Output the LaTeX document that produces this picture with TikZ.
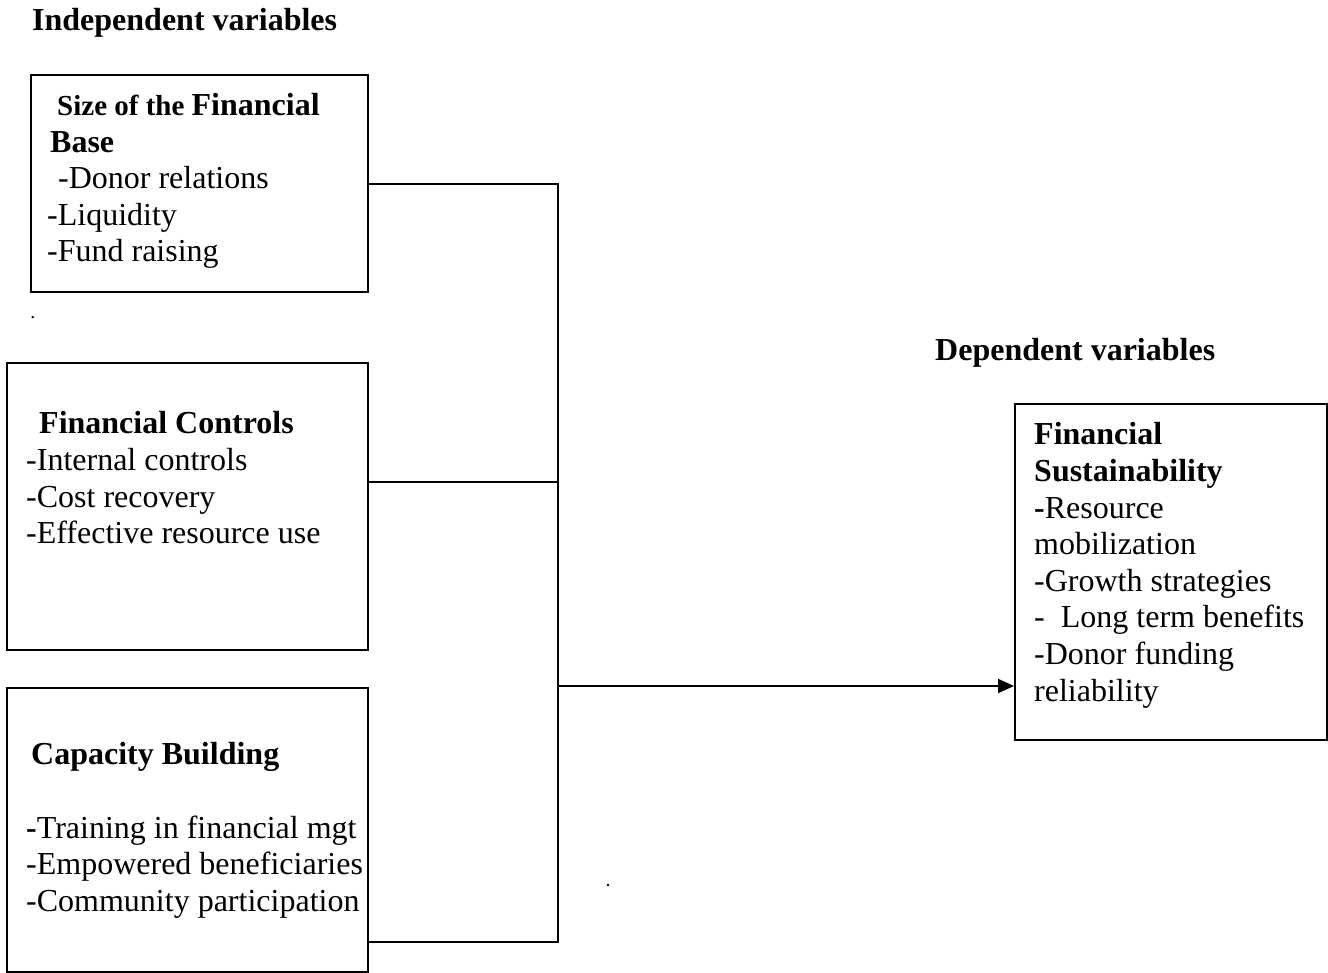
\documentclass[tikz,border=0pt]{standalone}
\usepackage{fontspec}
\setmainfont{Liberation Serif}
\usetikzlibrary{arrows.meta}

\tikzset{
  caja/.style={draw, line width=2pt, inner sep=0pt, anchor=north west},
  texto/.style={align=left, inner sep=0pt, anchor=north west,
    font=\fontsize{32}{36.6}\selectfont, execute at begin node=\strut},
  titulo/.style={inner sep=0pt, anchor=base west,
    font=\fontsize{32}{36.6}\selectfont\bfseries},
  punto/.style={inner sep=0pt, anchor=base, font=\fontsize{20}{24}\selectfont},
  linea/.style={line width=2pt}
}

\begin{document}
\begin{tikzpicture}[x=1pt, y=-1pt]
            \useasboundingbox (0,0) rectangle (1328,972);

            % Titulos
            \node[titulo] (indep) at (32,30) {Independent variables};
            \node[titulo] (dep) at (935,360) {Dependent variables};

            % Cajas
            \node[caja, minimum width=337pt, minimum height=217pt] (finbase) at (30,74) {};
            \node[caja, minimum width=361pt, minimum height=287pt] (fincontrols) at (6,362) {};
            \node[caja, minimum width=361pt, minimum height=284pt] (capacity) at (6,687) {};
            \node[caja, minimum width=312pt, minimum height=336pt] (sustain) at (1014,403) {};

            % Textos
            \node[texto] (finbaseTxt) at (47,93) {\hspace*{10pt}\textbf{{\fontsize{29}{36.6}\selectfont Size of the }Financial}\\
              \hspace*{3pt}\textbf{Base}\\
              \hspace*{11pt}-Donor relations\\
              -Liquidity\\
              -Fund raising};
            \node[texto] (fincontrolsTxt) at (26,411.5) {\hspace*{13pt}\textbf{Financial Controls}\\
              -Internal controls\\
              -Cost recovery\\
              -Effective resource use};
            \node[texto] (capacityTxt) at (26,742.5) {\hspace*{5pt}\textbf{Capacity Building}\\[36.6pt]
              \textbf{-}Training in financial mgt\\
              -Empowered beneficiaries\\
              -Community participation};
            \node[texto] (sustainTxt) at (1034,422.5) {\textbf{Financial}\\
              \textbf{Sustainability}\\
              \textbf{-}Resource\\
              mobilization\\
              -Growth strategies\\
              - \ Long term benefits\\
              -Donor funding\\
              reliability};

            % Puntos sueltos
            \node[punto] (dotA) at (33,318) {.};
            \node[punto] (dotB) at (608,886) {.};

            % Conectores
            \coordinate (busMid) at (558,482);
            \coordinate (busOut) at (558,686);
            \coordinate (busEnd) at (558,942);
            \draw[linea] (finbase.east) -| (busEnd) -- (busEnd -| capacity.east);
            \draw[linea] (busMid) -- (busMid -| fincontrols.east);
            \draw[linea, -{Triangle[length=16pt, width=14pt]}] (busOut) -- (busOut -| sustain.west);
        \end{tikzpicture}
\end{document}
